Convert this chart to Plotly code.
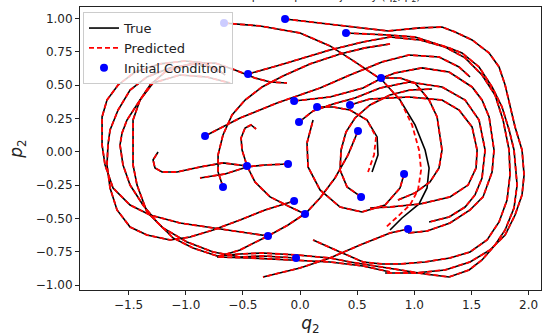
import plotly.graph_objects as go

# ---- true trajectories (q2, p2), one per initial condition ----
q01 = [-0.665, -0.350, 0.000, 0.262, 0.481, 0.717, 0.875, 1.006, 1.094, 1.129, 1.111, 1.041, 0.892, 0.787]
p01 = [0.966, 0.944, 0.891, 0.794, 0.674, 0.538, 0.388, 0.201, 0.013, -0.122, -0.272, -0.392, -0.497, -0.587]

q02 = [-0.131, 0.262, 0.770, 1.050, 1.242, 1.356, 1.505, 1.654, 1.741, 1.794, 1.837, 1.881, 1.942, 1.960, 1.942, 1.881, 1.794, 1.662, 1.487, 1.269, 1.006, 0.744]
p02 = [0.996, 0.959, 0.906, 0.929, 0.936, 0.899, 0.839, 0.741, 0.636, 0.501, 0.336, 0.186, 0.013, -0.174, -0.324, -0.475, -0.625, -0.737, -0.827, -0.887, -0.910, -0.910]

q03 = [0.402, 0.612, 0.770, 1.006, 1.304, 1.417, 1.566, 1.680, 1.767, 1.829, 1.872, 1.899, 1.872, 1.794, 1.706, 1.592, 1.479, 1.304, 1.094, 0.875, 0.656, 0.437, 0.262, -0.026, -0.324, -0.525, -0.726, -0.936, -1.111, -1.251, -1.374, -1.487, -1.549, -1.575, -1.557, -1.514, -1.400, -1.312, -1.181, -0.962, -0.744, -0.569, -0.394, -0.262, -0.114]
p03 = [0.891, 0.884, 0.876, 0.861, 0.779, 0.741, 0.636, 0.486, 0.336, 0.163, 0.013, -0.250, -0.422, -0.587, -0.700, -0.812, -0.887, -0.940, -0.917, -0.887, -0.857, -0.827, -0.797, -0.775, -0.760, -0.767, -0.782, -0.722, -0.647, -0.527, -0.400, -0.250, -0.099, 0.051, 0.141, 0.238, 0.388, 0.501, 0.598, 0.659, 0.666, 0.614, 0.553, 0.523, 0.516]

q04 = [-0.455, -0.175, 0.262, 0.551, 0.787, 1.050, 1.269, 1.444, 1.592, 1.706, 1.776, 1.829, 1.837, 1.811, 1.741, 1.636, 1.487, 1.312, 1.094, 0.875, 0.717, 0.551, 0.350, 0.114]
p04 = [0.583, 0.651, 0.764, 0.824, 0.861, 0.839, 0.786, 0.704, 0.576, 0.426, 0.238, 0.013, -0.174, -0.362, -0.527, -0.662, -0.752, -0.797, -0.827, -0.842, -0.842, -0.827, -0.752, -0.662]

q05 = [0.709, 0.875, 1.006, 1.129, 1.199, 1.242, 1.216, 1.137, 1.006, 0.857]
p05 = [0.553, 0.553, 0.516, 0.388, 0.261, 0.013, -0.122, -0.227, -0.309, -0.362]

q06 = [-0.052, 0.262, 0.551, 0.717, 0.831, 1.067, 1.304, 1.505, 1.592, 1.654, 1.680, 1.697, 1.680, 1.601, 1.487, 1.312, 1.111, 0.945]
p06 = [0.381, 0.411, 0.478, 0.553, 0.591, 0.629, 0.598, 0.486, 0.388, 0.261, 0.111, 0.013, -0.152, -0.339, -0.437, -0.535, -0.595, -0.610]

q07 = [0.149, 0.289, 0.437, 0.586, 0.674, 0.682, 0.630]
p07 = [0.336, 0.336, 0.313, 0.238, 0.111, -0.024, -0.152]

q08 = [0.437, 0.612, 0.954, 1.242, 1.391, 1.505, 1.549, 1.540, 1.470, 1.312, 1.050, 0.787, 0.612]
p08 = [0.351, 0.396, 0.411, 0.388, 0.313, 0.186, 0.013, -0.122, -0.250, -0.339, -0.392, -0.415, -0.422]

q09 = [-0.009, 0.114, 0.289, 0.481, 0.700, 0.954, 1.242, 1.444, 1.566, 1.619, 1.592, 1.531, 1.444, 1.304, 1.129]
p09 = [0.223, 0.306, 0.358, 0.403, 0.478, 0.523, 0.486, 0.388, 0.238, 0.013, -0.197, -0.324, -0.415, -0.490, -0.527]

q10 = [0.507, 0.420, 0.306, 0.175, 0.052, -0.105, -0.280, -0.525, -0.726, -0.437, -0.087, 0.262, 0.551, 0.787]
p10 = [0.156, -0.024, -0.197, -0.347, -0.460, -0.550, -0.632, -0.737, -0.790, -0.797, -0.812, -0.827, -0.857, -0.902]

q11 = [-0.831, -0.525, -0.201, 0.175, 0.437, 0.717, 0.954, 1.216, 1.391, 1.487]
p11 = [0.118, 0.253, 0.366, 0.478, 0.576, 0.674, 0.726, 0.711, 0.636, 0.561]

q12 = [-0.464, -0.674, -0.875, -1.076, -1.207, -1.269, -1.286, -1.242]
p12 = [-0.107, -0.084, -0.114, -0.152, -0.152, -0.122, -0.062, -0.002]

q13 = [-0.105, -0.306, -0.464, -0.656, -0.875]
p13 = [-0.092, -0.099, -0.114, -0.167, -0.197]

q14 = [0.910, 0.875, 0.744, 0.542, 0.350, 0.175, 0.070, 0.061, 0.114]
p14 = [-0.167, -0.272, -0.400, -0.452, -0.415, -0.287, -0.114, 0.066, 0.238]

q15 = [-0.674, -0.717, -0.717, -0.674, -0.595, -0.481, -0.332, -0.149, 0.087, 0.350, 0.569, 0.787]
p15 = [-0.264, -0.152, -0.024, 0.126, 0.276, 0.388, 0.486, 0.568, 0.659, 0.734, 0.779, 0.809]

q16 = [0.534, 0.411, 0.350, 0.359, 0.402, 0.481, 0.612, 0.787, 0.962, 1.155]
p16 = [-0.339, -0.264, -0.137, 0.013, 0.148, 0.253, 0.351, 0.426, 0.463, 0.471]

q17 = [-0.052, -0.306, -0.525, -0.761, -0.962, -1.137, -1.339, -1.487, -1.601, -1.662, -1.689, -1.680, -1.662, -1.592, -1.487, -1.339, -1.137, -0.919, -0.744, -0.656]
p17 = [-0.370, -0.437, -0.512, -0.587, -0.640, -0.662, -0.625, -0.565, -0.437, -0.272, -0.099, 0.051, 0.163, 0.313, 0.463, 0.561, 0.629, 0.659, 0.629, 0.576]

q18 = [0.044, -0.087, -0.262, -0.394, -0.464, -0.507, -0.516, -0.481, -0.429, -0.385]
p18 = [-0.467, -0.415, -0.339, -0.227, -0.107, 0.013, 0.103, 0.178, 0.201, 0.171]

q19 = [0.945, 0.787, 0.525, 0.262, 0.000, -0.324]
p19 = [-0.580, -0.610, -0.700, -0.797, -0.872, -0.940]

q20 = [-0.280, -0.525, -0.761, -1.050, -1.312, -1.487, -1.636, -1.706, -1.732, -1.732, -1.689, -1.592, -1.443, -1.225, -1.006, -0.831, -0.717]
p20 = [-0.632, -0.602, -0.572, -0.535, -0.475, -0.400, -0.272, -0.099, 0.051, 0.261, 0.388, 0.501, 0.598, 0.659, 0.681, 0.666, 0.598]

q21 = [-0.035, -0.324, -0.525, -0.761, -0.989, -1.199, -1.339, -1.426, -1.461, -1.461, -1.461, -1.400, -1.286, -1.050, -0.814, -0.612]
p21 = [-0.797, -0.782, -0.790, -0.752, -0.677, -0.572, -0.452, -0.250, -0.099, 0.051, 0.238, 0.388, 0.516, 0.576, 0.561, 0.516]

# ---- predicted trajectories that visibly differ from the true ones ----
q01_pred = [-0.665, -0.350, 0.000, 0.262, 0.481, 0.717, 0.875, 0.980, 1.041, 1.059, 1.032, 0.962, 0.840, 0.744]
p01_pred = [0.966, 0.944, 0.891, 0.794, 0.674, 0.538, 0.388, 0.201, 0.013, -0.137, -0.287, -0.400, -0.497, -0.572]
q07_pred = [0.149, 0.289, 0.437, 0.586, 0.665, 0.647, 0.595]
p07_pred = [0.336, 0.336, 0.313, 0.238, 0.111, -0.024, -0.152]

true_q = [q01, q02, q03, q04, q05, q06, q07, q08, q09, q10, q11, q12, q13, q14, q15, q16, q17, q18, q19, q20, q21]
true_p = [p01, p02, p03, p04, p05, p06, p07, p08, p09, p10, p11, p12, p13, p14, p15, p16, p17, p18, p19, p20, p21]
pred_q = list(true_q)
pred_p = list(true_p)
pred_q[0], pred_p[0] = q01_pred, p01_pred
pred_q[6], pred_p[6] = q07_pred, p07_pred

x_ticks = [-1.5, -1.0, -0.5, 0.0, 0.5, 1.0, 1.5, 2.0]
y_ticks = [-1.0, -0.75, -0.5, -0.25, 0.0, 0.25, 0.5, 0.75, 1.0]

fig = go.Figure()
for i, (qq, pp) in enumerate(zip(true_q, true_p)):
    fig.add_trace(go.Scatter(x=qq, y=pp, mode="lines", name="True", legendgroup="true",
                             showlegend=(i == 0), line=dict(color="black", width=1.6)))
for i, (qq, pp) in enumerate(zip(pred_q, pred_p)):
    fig.add_trace(go.Scatter(x=qq, y=pp, mode="lines", name="Predicted", legendgroup="pred",
                             showlegend=(i == 0), line=dict(color="#ff0000", width=1.8, dash="5px,3px")))
ic_q = [qq[0] for qq in true_q]
ic_p = [pp[0] for pp in true_p]
fig.add_trace(go.Scatter(x=ic_q, y=ic_p, mode="markers", name="Initial Condition",
                         marker=dict(color="#0000ff", size=8, line=dict(width=0))))

axis_common = dict(showline=True, linecolor="#222", linewidth=1, mirror=True, ticks="outside",
                   ticklen=4, tickwidth=1, tickcolor="#222", showgrid=False, zeroline=False,
                   automargin=False,
                   tickfont=dict(family="DejaVu Sans", size=12, color="#222"))
fig.update_xaxes(range=[-1.925, 2.108], tickvals=x_ticks, tickformat=".1f",
                 title=dict(text="<i>q</i><sub>2</sub>", font=dict(family="DejaVu Sans", size=17, color="#222"), standoff=6),
                 **axis_common)
fig.update_yaxes(range=[-1.0375, 1.086], tickvals=y_ticks, tickformat=".2f",
                 title=dict(text="<i>p</i><sub>2</sub>", font=dict(family="DejaVu Sans", size=17, color="#222"), standoff=8),
                 **axis_common)

fig.add_annotation(text="True vs Predicted phase space trajectory (q<sub>2</sub>, p<sub>2</sub>)",
                   xref="paper", yref="paper", x=0.744, y=1.0045, xanchor="right", yanchor="bottom",
                   showarrow=False, font=dict(family="DejaVu Sans", size=11, color="#222"))

fig.update_layout(width=542, height=336, margin=dict(l=80, r=1, t=7, b=46, autoexpand=False),
                  plot_bgcolor="white", paper_bgcolor="white",
                  legend=dict(x=0.0065, y=0.982, xanchor="left", yanchor="top",
                              bgcolor="rgba(255,255,255,0.8)", bordercolor="#cccccc", borderwidth=1,
                              font=dict(family="DejaVu Sans", size=13, color="#222"),
                              tracegroupgap=0, itemwidth=30),
                  showlegend=True)

fig.write_html("out.html", config={"displayModeBar": False},
               post_script="document.body.style.margin='0';document.body.style.overflow='hidden';")
